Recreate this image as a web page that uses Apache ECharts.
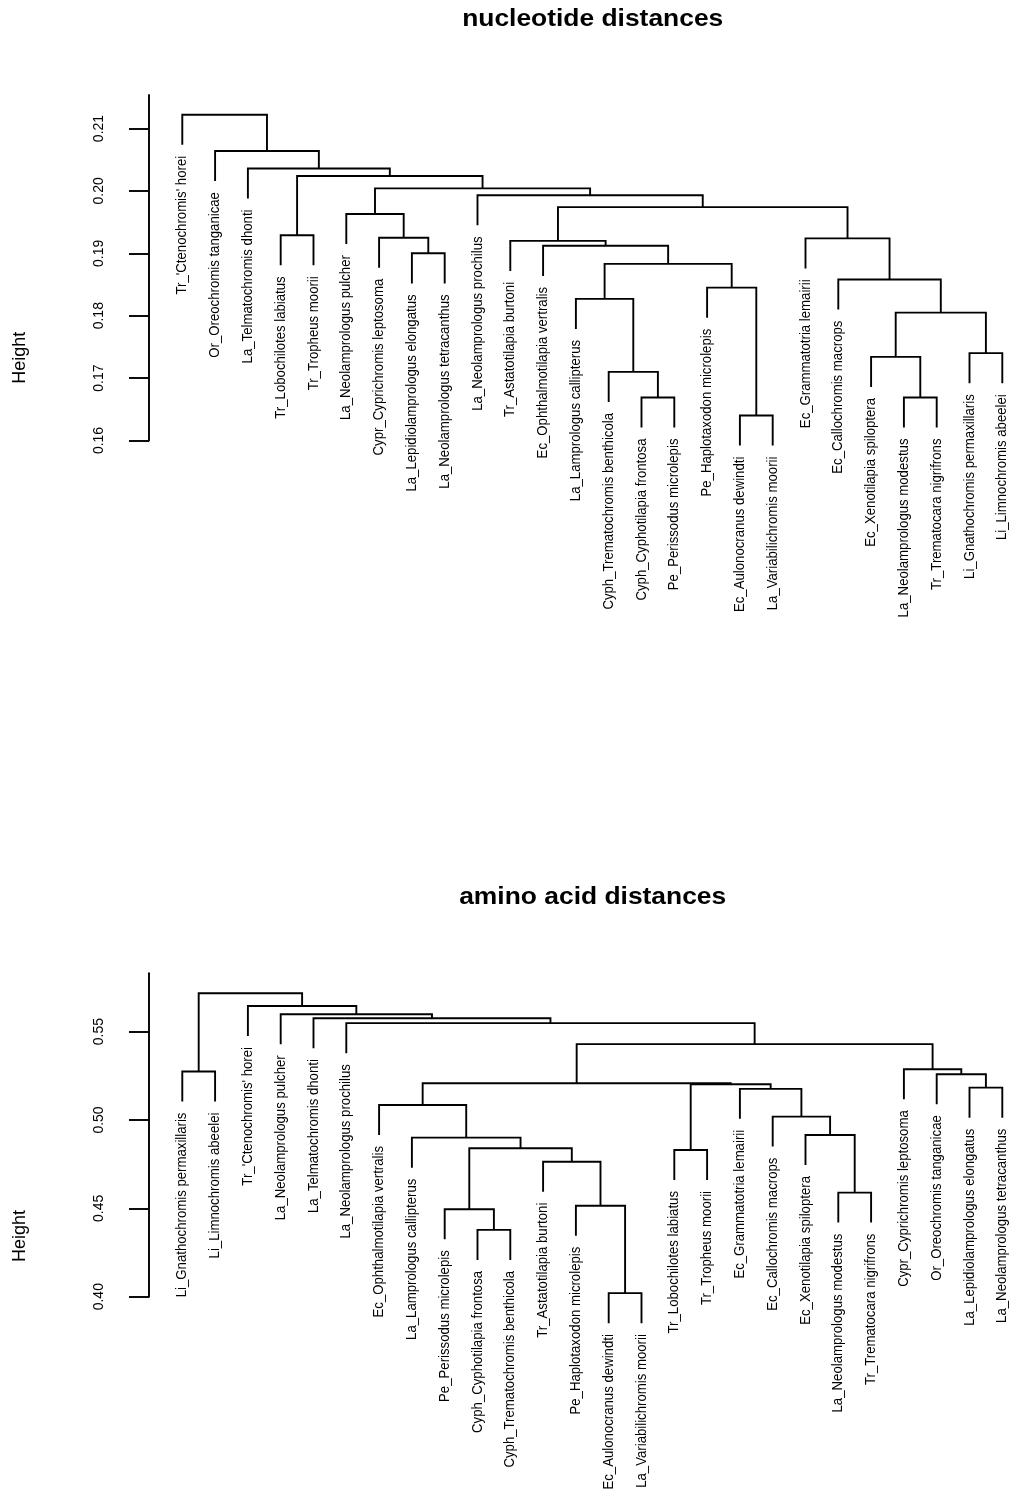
<!DOCTYPE html>
<html>
<head>
<meta charset="utf-8">
<script src="https://cdn.jsdelivr.net/npm/echarts@6/dist/echarts.min.js"></script>
<style>
html,body{margin:0;padding:0;background:#ffffff;}
#chart{width:1009px;height:1494px;}
</style>
</head>
<body>
<div id="chart"></div>
<script>
// ---------- DATA: nucleotide distances (leaves in plotted order) ----------
const nucLabels = [
  "Tr_'Ctenochromis' horei", "Or_Oreochromis tanganicae", "La_Telmatochromis dhonti",
  "Tr_Lobochilotes labiatus", "Tr_Tropheus moorii", "La_Neolamprologus pulcher",
  "Cypr_Cyprichromis leptosoma", "La_Lepidiolamprologus elongatus", "La_Neolamprologus tetracanthus",
  "La_Neolamprologus prochilus", "Tr_Astatotilapia burtoni", "Ec_Ophthalmotilapia vertralis",
  "La_Lamprologus callipterus", "Cyph_Trematochromis benthicola", "Cyph_Cyphotilapia frontosa",
  "Pe_Perissodus microlepis", "Pe_Haplotaxodon microlepis", "Ec_Aulonocranus dewindti",
  "La_Variabilichromis moorii", "Ec_Grammatotria lemairii", "Ec_Callochromis macrops",
  "Ec_Xenotilapia spiloptera", "La_Neolamprologus modestus", "Tr_Trematocara nigrifrons",
  "Li_Gnathochromis permaxillaris", "Li_Limnochromis abeelei"
];
// merge steps (R hclust style): negative = leaf number, positive = earlier merge number
const nucMergeLeft  = [-18,-15,-23,-14,-22,-25, 5,-13,-17,-21, 8, -8,-12,-11,-20, -7, -4, -6, 14,-10, 18, 17, -3, -2, -1];
const nucMergeRight = [-19,-16,-24,  2,  3,-26, 6,  4,  1,  7, 9, -9, 11, 13, 10, 12, -5, 16, 15, 19, 20, 21, 22, 23, 24];
const nucHeight     = [0.1640,0.1669,0.1669,0.1710,0.1734,0.1740,0.1805,0.1827,0.1845,0.1858,0.1883,0.1900,0.1912,
                       0.1920,0.1924,0.1925,0.1929,0.1963,0.1974,0.1993,0.2004,0.2024,0.2036,0.2064,0.2122];
const nucTicks = [0.16, 0.17, 0.18, 0.19, 0.20, 0.21];

// ---------- DATA: amino acid distances ----------
const aaLabels = [
  "Li_Gnathochromis permaxillaris", "Li_Limnochromis abeelei", "Tr_'Ctenochromis' horei",
  "La_Neolamprologus pulcher", "La_Telmatochromis dhonti", "La_Neolamprologus prochilus",
  "Ec_Ophthalmotilapia vertralis", "La_Lamprologus callipterus", "Pe_Perissodus microlepis",
  "Cyph_Cyphotilapia frontosa", "Cyph_Trematochromis benthicola", "Tr_Astatotilapia burtoni",
  "Pe_Haplotaxodon microlepis", "Ec_Aulonocranus dewindti", "La_Variabilichromis moorii",
  "Tr_Lobochilotes labiatus", "Tr_Tropheus moorii", "Ec_Grammatotria lemairii",
  "Ec_Callochromis macrops", "Ec_Xenotilapia spiloptera", "La_Neolamprologus modestus",
  "Tr_Trematocara nigrifrons", "Cypr_Cyprichromis leptosoma", "Or_Oreochromis tanganicae",
  "La_Lepidiolamprologus elongatus", "La_Neolamprologus tetracanthus"
];
const aaMergeLeft  = [-14,-10, -9,-13,-21,-12,-16, 3, -8,-20,-19, -7,-18,-25, 7, 12,-24, -1,-23, 16, -6, -5, -4, -3, 18];
const aaMergeRight = [-15,-11,  2,  1,-22,  4,-17, 6,  8,  5, 10,  9, 11,-26,13, 15, 14, -2, 17, 19, 20, 21, 22, 23, 24];
const aaHeight     = [0.4020,0.4378,0.4495,0.4515,0.4589,0.4764,0.4830,0.4840,0.4900,0.4915,0.5019,0.5085,0.5176,
                      0.5183,0.5202,0.5208,0.5259,0.5274,0.5287,0.5429,0.5548,0.5576,0.5598,0.5645,0.5717];
const aaTicks = [0.40, 0.45, 0.50, 0.55];

// ---------- build dendrogram geometry in data units ----------
function buildTree(labels, left, right, height, hangFrac) {
  const hmax = Math.max.apply(null, height), hmin = Math.min.apply(null, height);
  const hang = hangFrac * (hmax - hmin);
  const mx = [];
  const nodeX = c => (c < 0 ? (-c - 1) : mx[c - 1]);
  const segs = [], leaves = [];
  for (let k = 0; k < height.length; k++) {
    const a = left[k], b = right[k], h = height[k];
    const xa = nodeX(a), xb = nodeX(b);
    mx[k] = (xa + xb) / 2;
    const ya = a < 0 ? h - hang : height[a - 1];
    const yb = b < 0 ? h - hang : height[b - 1];
    segs.push([xa, ya, xb, yb, h]);
    if (a < 0) leaves.push({ value: [xa, h - hang], name: labels[-a - 1] });
    if (b < 0) leaves.push({ value: [xb, h - hang], name: labels[-b - 1] });
  }
  return { segs, leaves };
}
const nucTree = buildTree(nucLabels, nucMergeLeft, nucMergeRight, nucHeight, 0.1);
const aaTree  = buildTree(aaLabels, aaMergeLeft, aaMergeRight, aaHeight, 0.1);

const FONT = '"Liberation Sans", Arial, Helvetica, sans-serif';
const INK = '#000000';

function branchRenderer(params, api) {
  const p1 = api.coord([api.value(0), api.value(1)]);
  const p2 = api.coord([api.value(0), api.value(4)]);
  const p3 = api.coord([api.value(2), api.value(4)]);
  const p4 = api.coord([api.value(2), api.value(3)]);
  return {
    type: 'polyline',
    shape: { points: [p1, p2, p3, p4] },
    style: { stroke: INK, lineWidth: 1.9, fill: null, lineJoin: 'miter', lineCap: 'butt' }
  };
}
function leafRenderer(leaves) {
  return function (params, api) {
    const p = api.coord([api.value(0), api.value(1)]);
    return {
      type: 'text',
      x: p[0],
      y: p[1] + 11,
      rotation: Math.PI / 2,
      scaleY: 1.12,
      style: {
        text: leaves[params.dataIndex].name,
        font: '13.2px ' + FONT,
        fill: INK,
        align: 'right',
        verticalAlign: 'middle'
      }
    };
  };
}

function yAxisCfg(gridIndex, min, max, ticks) {
  return {
    gridIndex: gridIndex, type: 'value', min: min, max: max,
    axisLine: { show: true, onZero: false, lineStyle: { color: INK, width: 1.9 } },
    axisTick: { show: true, length: 20, customValues: ticks, lineStyle: { color: INK, width: 1.9 } },
    axisLabel: {
      customValues: ticks, rotate: 90, margin: 43, fontSize: 14, color: INK,
      fontFamily: FONT, formatter: v => Number(v).toFixed(2)
    },
    splitLine: { show: false }
  };
}
function xAxisCfg(gridIndex) {
  return { gridIndex: gridIndex, type: 'value', min: -1.015, max: 25, show: false };
}

const chart = echarts.init(document.getElementById('chart'), null, { renderer: 'canvas' });
chart.setOption({
  backgroundColor: '#ffffff',
  animation: false,
  grid: [
    { left: 149, right: 6.7, top: 95, height: 345.5 },
    { left: 149, right: 6.7, top: 973.3, height: 323.4 }
  ],
  xAxis: [xAxisCfg(0), xAxisCfg(1)],
  yAxis: [yAxisCfg(0, 0.16, 0.21537, nucTicks), yAxisCfg(1, 0.40, 0.583, aaTicks)],
  graphic: [
    { type: 'text', x: 592.7, y: 19, scaleX: 1.1,
      style: { text: 'nucleotide distances', font: 'bold 24px ' + FONT, fill: INK, align: 'center', verticalAlign: 'middle' } },
    { type: 'text', x: 592.7, y: 897.3, scaleX: 1.1,
      style: { text: 'amino acid distances', font: 'bold 24px ' + FONT, fill: INK, align: 'center', verticalAlign: 'middle' } },
    { type: 'text', x: 20.5, y: 357.7, rotation: Math.PI / 2,
      style: { text: 'Height', font: '18px ' + FONT, fill: INK, align: 'center', verticalAlign: 'middle' } },
    { type: 'text', x: 20.5, y: 1236, rotation: Math.PI / 2,
      style: { text: 'Height', font: '18px ' + FONT, fill: INK, align: 'center', verticalAlign: 'middle' } }
  ],
  series: [
    { type: 'custom', name: 'nucleotide branches', xAxisIndex: 0, yAxisIndex: 0, clip: false, silent: true,
      renderItem: branchRenderer, data: nucTree.segs, encode: { x: [0, 2], y: [1, 3, 4] } },
    { type: 'custom', name: 'nucleotide labels', xAxisIndex: 0, yAxisIndex: 0, clip: false, silent: true,
      renderItem: leafRenderer(nucTree.leaves), data: nucTree.leaves, encode: { x: 0, y: 1 } },
    { type: 'custom', name: 'amino acid branches', xAxisIndex: 1, yAxisIndex: 1, clip: false, silent: true,
      renderItem: branchRenderer, data: aaTree.segs, encode: { x: [0, 2], y: [1, 3, 4] } },
    { type: 'custom', name: 'amino acid labels', xAxisIndex: 1, yAxisIndex: 1, clip: false, silent: true,
      renderItem: leafRenderer(aaTree.leaves), data: aaTree.leaves, encode: { x: 0, y: 1 } }
  ]
});
</script>
</body>
</html>
